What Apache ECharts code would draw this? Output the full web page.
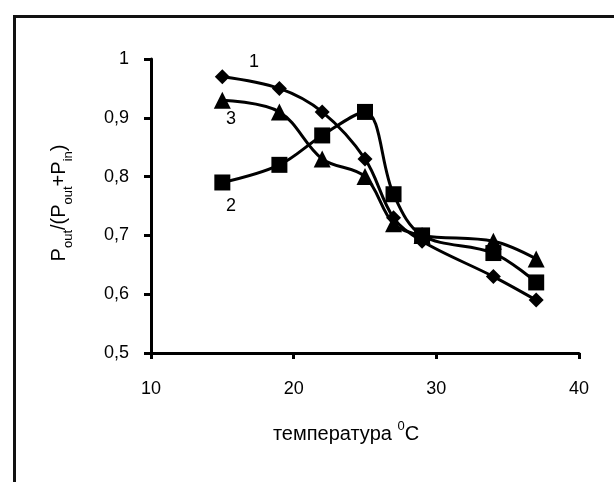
<!DOCTYPE html>
<html>
<head>
<meta charset="utf-8">
<script src="https://cdn.jsdelivr.net/npm/echarts@6/dist/echarts.min.js"></script>
<style>html,body{margin:0;padding:0;background:#fff}#c{width:614px;height:482px}</style>
</head>
<body>
<div id="c"></div>
<script>
const temps = [15, 19, 22, 25, 27, 29, 34, 37];
const series1 = [0.97, 0.95, 0.91, 0.83, 0.73, 0.69, 0.63, 0.59];
const series2 = [0.79, 0.82, 0.87, 0.91, 0.77, 0.70, 0.67, 0.62];
const series3 = [0.93, 0.91, 0.83, 0.80, 0.72, 0.70, 0.69, 0.66];
const seriesNames = ['1', '2', '3'];
const xTitle = 'температура';
const yTitleParts = ['P', 'out', '/(P', 'out', '+P', 'in', ')'];

const chart = echarts.init(document.getElementById('c'), null, {renderer: 'canvas'});
const font = 'Liberation Sans, Arial, sans-serif';

function mk(name, vals, symbol, size) {
  return {
    name: name, type: 'line', smooth: 0.35,
    data: temps.map((t, i) => [t, vals[i]]),
    symbol: symbol, symbolSize: size,
    lineStyle: {color: '#000', width: 3},
    itemStyle: {color: '#000', borderWidth: 0},
    emphasis: {disabled: true},
    z: 3
  };
}

const yRich = yTitleParts.map((p, i) => i % 2 === 1 ? '{s|' + p + '}' : '{m|' + p + '}').join('');

chart.setOption({
  animation: false,
  grid: {left: 151, right: 35, top: 59, bottom: 129, containLabel: false},
  xAxis: {
    type: 'value', min: 10, max: 40, interval: 10,
    axisLine: {show: true, lineStyle: {color: '#000', width: 3}},
    axisTick: {show: true, inside: false, length: 6, lineStyle: {color: '#000', width: 3}},
    axisLabel: {color: '#000', fontSize: 18, fontFamily: font, margin: 27},
    splitLine: {show: false}
  },
  yAxis: {
    type: 'value', min: 0.5, max: 1, interval: 0.1,
    axisLine: {show: true, lineStyle: {color: '#000', width: 3}},
    axisTick: {show: true, inside: false, length: 7, lineStyle: {color: '#000', width: 3}},
    axisLabel: {color: '#000', fontSize: 18, fontFamily: font, margin: 22,
      formatter: v => (Math.round(v * 10) / 10).toString().replace('.', ',')},
    splitLine: {show: false}
  },
  series: [
    mk(seriesNames[0], series1, 'diamond', 15),
    mk(seriesNames[1], series2, 'rect', 16),
    mk(seriesNames[2], series3, 'triangle', 17)
  ],
  graphic: [
    {type: 'rect', left: 12, top: 14, shape: {x: 0, y: 0, width: 640, height: 520},
      style: {fill: null, stroke: '#111', lineWidth: 3}, silent: true, z: 0},
    {type: 'text', x: 254, y: 62, style: {text: seriesNames[0], font: '18px ' + font, fill: '#000', align: 'center', verticalAlign: 'middle'}},
    {type: 'text', x: 231, y: 206, style: {text: seriesNames[1], font: '18px ' + font, fill: '#000', align: 'center', verticalAlign: 'middle'}},
    {type: 'text', x: 231, y: 119, style: {text: seriesNames[2], font: '18px ' + font, fill: '#000', align: 'center', verticalAlign: 'middle'}},
    {type: 'text', x: 346, y: 432, style: {
      text: '{m|' + xTitle + ' }{s|0}{m|C}', align: 'center', verticalAlign: 'middle',
      rich: {
        m: {fontSize: 20, fontFamily: font, fill: '#000', lineHeight: 24, verticalAlign: 'bottom'},
        s: {fontSize: 13, fontFamily: font, fill: '#000', lineHeight: 13, verticalAlign: 'top'}
      }}},
    {type: 'text', x: 62, y: 203, rotation: Math.PI / 2, style: {
      text: yRich, align: 'center', verticalAlign: 'middle',
      rich: {
        m: {fontSize: 20, fontFamily: font, fill: '#000', lineHeight: 26, verticalAlign: 'top'},
        s: {fontSize: 13, fontFamily: font, fill: '#000', lineHeight: 13, verticalAlign: 'bottom'}
      }}}
  ]
});
</script>
</body>
</html>
